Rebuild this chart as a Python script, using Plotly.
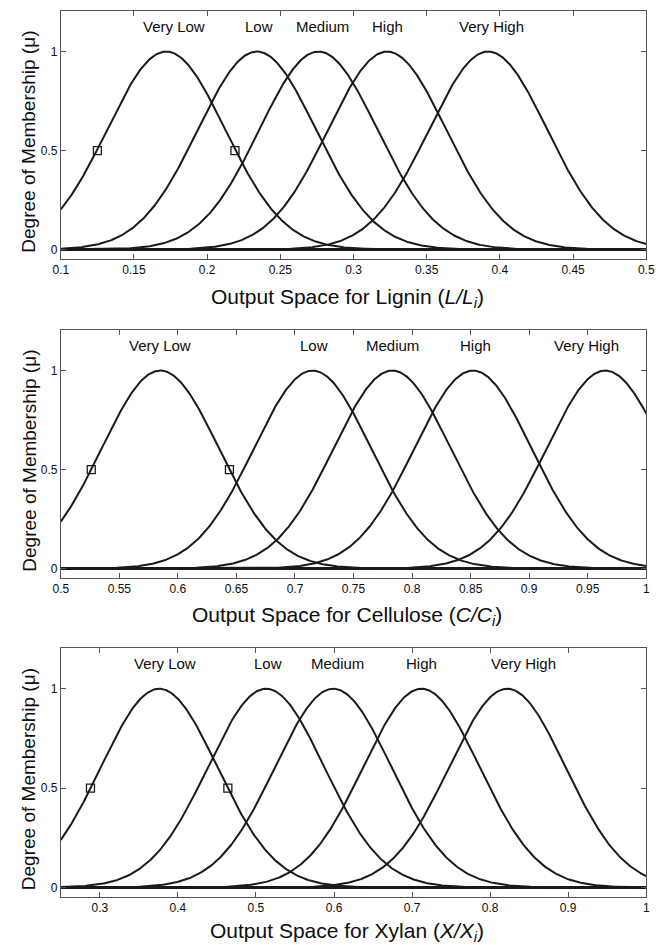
import numpy as np
import plotly.graph_objects as go

# ---------------- data ----------------
labels = ["Very Low", "Low", "Medium", "High", "Very High"]

# Lignin panel
lignin_centers = [0.172, 0.234, 0.276, 0.323, 0.392]
lignin_sigma = [0.0403, 0.0403, 0.0403, 0.0403, 0.0403]
lignin_marker_x = [0.125, 0.219]
lignin_label_x = [0.177, 0.2355, 0.279, 0.3235, 0.394]
lignin_range = [0.1, 0.5]
lignin_ticks = [0.1, 0.15, 0.2, 0.25, 0.3, 0.35, 0.4, 0.45, 0.5]
lignin_ticktext = ["0.1", "0.15", "0.2", "0.25", "0.3", "0.35", "0.4", "0.45", "0.5"]

# Cellulose panel
cellulose_centers = [0.585, 0.715, 0.783, 0.852, 0.965]
cellulose_sigma = [0.0501, 0.0501, 0.0501, 0.0501, 0.0501]
cellulose_marker_x = [0.526, 0.644]
cellulose_label_x = [0.585, 0.716, 0.783, 0.854, 0.949]
cellulose_range = [0.5, 1.0]
cellulose_ticks = [0.5, 0.55, 0.6, 0.65, 0.7, 0.75, 0.8, 0.85, 0.9, 0.95, 1.0]
cellulose_ticktext = ["0.5", "0.55", "0.6", "0.65", "0.7", "0.75", "0.8", "0.85", "0.9", "0.95", "1"]

# Xylan panel
xylan_centers = [0.376, 0.513, 0.599, 0.712, 0.822]
xylan_sigma = [0.0745, 0.0745, 0.0745, 0.0745, 0.0745]
xylan_marker_x = [0.288, 0.464]
xylan_label_x = [0.383, 0.515, 0.605, 0.712, 0.843]
xylan_range = [0.25, 1.0]
xylan_ticks = [0.3, 0.4, 0.5, 0.6, 0.7, 0.8, 0.9, 1.0]
xylan_ticktext = ["0.3", "0.4", "0.5", "0.6", "0.7", "0.8", "0.9", "1"]

y_ticks = [0, 0.5, 1]
y_ticktext = ["0", "0.5", "1"]
marker_y = [0.5, 0.5]

x_titles = [
    "Output Space for Lignin (<i>L/L<sub>i</sub></i>)",
    "Output Space for Cellulose (<i>C/C<sub>i</sub></i>)",
    "Output Space for Xylan (<i>X/X<sub>i</sub></i>)",
]
y_title = "Degree of Membership (μ)"

# ---------------- layout geometry ----------------
# the page body adds an 8px margin, so the figure is shrunk by that amount
OFF = 8
W, H = 665 - OFF, 945 - OFF


def px_x(X):
    return (X - OFF) / W


def px_y(Y):
    return 1 - (Y - OFF) / H


panels = [
    dict(centers=lignin_centers, sigma=lignin_sigma, mx=lignin_marker_x, lx=lignin_label_x,
         rng=lignin_range, ticks=lignin_ticks, ticktext=lignin_ticktext, top=11, bot=259, xt=298),
    dict(centers=cellulose_centers, sigma=cellulose_sigma, mx=cellulose_marker_x, lx=cellulose_label_x,
         rng=cellulose_range, ticks=cellulose_ticks, ticktext=cellulose_ticktext, top=330, bot=578, xt=616),
    dict(centers=xylan_centers, sigma=xylan_sigma, mx=xylan_marker_x, lx=xylan_label_x,
         rng=xylan_range, ticks=xylan_ticks, ticktext=xylan_ticktext, top=648, bot=897, xt=932),
]
x_left, x_right = 54, 655
FONT = "Liberation Sans, Arial, sans-serif"
LINE = "#1a1a1a"
FRAME = "#555555"
TXT = "#0d0d0d"

fig = go.Figure()
annotations = []
layout_axes = {}

for i, p in enumerate(panels):
    n = i + 1
    xa = "x" if n == 1 else f"x{n}"
    ya = "y" if n == 1 else f"y{n}"
    xs = np.linspace(p["rng"][0], p["rng"][1], 600)
    for c, s in zip(p["centers"], p["sigma"]):
        ys = np.exp(-((xs - c) ** 2) / (2 * s ** 2))
        fig.add_trace(go.Scatter(x=xs, y=ys, mode="lines", xaxis=xa, yaxis=ya,
                                 line=dict(color=LINE, width=2), showlegend=False,
                                 hoverinfo="skip"))
    fig.add_trace(go.Scatter(x=p["mx"], y=marker_y, mode="markers", xaxis=xa, yaxis=ya,
                             marker=dict(symbol="square-open", size=8, color=LINE,
                                         line=dict(width=1.3, color=LINE)),
                             showlegend=False, hoverinfo="skip"))
    for lab, lx in zip(labels, p["lx"]):
        annotations.append(dict(x=lx, y=1.125, xref=xa, yref=ya, text=lab, showarrow=False,
                                font=dict(family=FONT, size=15, color=TXT),
                                xanchor="center", yanchor="middle"))
    xdom = [px_x(x_left), px_x(x_right)]
    ydom = [px_y(p["bot"]), px_y(p["top"])]
    axis_common = dict(showline=True, linecolor=FRAME, linewidth=1, mirror="ticks",
                       ticks="inside", ticklen=5, tickcolor=FRAME, showgrid=False,
                       tickfont=dict(family=FONT, size=12, color=TXT))
    layout_axes["xaxis" if n == 1 else f"xaxis{n}"] = dict(
        domain=xdom, range=p["rng"], anchor=ya, tickmode="array",
        tickvals=p["ticks"], ticktext=p["ticktext"], zeroline=False, **axis_common)
    layout_axes["yaxis" if n == 1 else f"yaxis{n}"] = dict(
        domain=ydom, range=[-0.048, 1.205], anchor=xa, tickmode="array",
        tickvals=y_ticks, ticktext=y_ticktext, zeroline=True, zerolinecolor=LINE,
        zerolinewidth=2.5, **axis_common)
    annotations.append(dict(x=px_x(348), y=px_y(p["xt"]), xref="paper",
                            yref="paper", text=x_titles[i], showarrow=False,
                            font=dict(family=FONT, size=21, color=TXT),
                            xanchor="center", yanchor="middle"))
    annotations.append(dict(x=px_x(21), y=px_y((p["top"] + p["bot"]) / 2 + 7), xref="paper",
                            yref="paper", text=y_title, showarrow=False, textangle=-90,
                            font=dict(family=FONT, size=19, color=TXT),
                            xanchor="center", yanchor="middle"))

fig.update_layout(width=W, height=H, margin=dict(l=0, r=0, t=0, b=0),
                  paper_bgcolor="white", plot_bgcolor="white",
                  annotations=annotations, **layout_axes)

fig.write_html("out.html")
